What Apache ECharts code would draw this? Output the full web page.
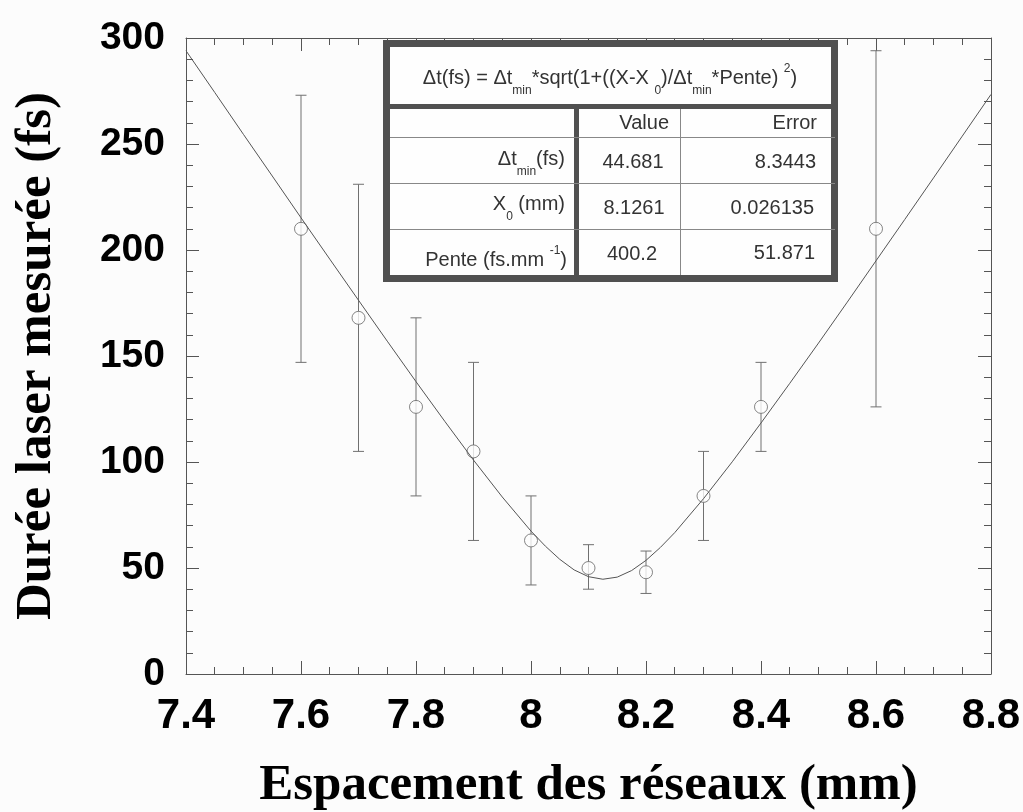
<!DOCTYPE html>
<html><head><meta charset="utf-8">
<script src="https://cdn.jsdelivr.net/npm/echarts@6/dist/echarts.min.js"></script>
<style>html,body{margin:0;padding:0;background:#fcfcfc}#c{width:1023px;height:812px}</style>
</head><body><div id="c"></div>
<script>
// Measured points
const pointX = [7.6, 7.7, 7.8, 7.9, 8.0, 8.1, 8.2, 8.3, 8.4, 8.6];
const pointY = [210, 168, 126, 105, 63, 50, 48, 84, 126, 210];
const errLow = [147, 105, 84, 63, 42, 40, 38, 63, 105, 126];
const errHigh = [273, 231, 168, 147, 84, 61, 58, 105, 147, 294];
// Fitted curve
const fitX = [7.4, 7.45, 7.5, 7.55, 7.6, 7.65, 7.7, 7.75, 7.8, 7.85, 7.9, 7.95, 8.0, 8.025, 8.05, 8.075, 8.1, 8.125, 8.15, 8.175, 8.2, 8.225, 8.25, 8.3, 8.35, 8.4, 8.45, 8.5, 8.55, 8.6, 8.65, 8.7, 8.75, 8.8];
const fitY = [294, 274.3, 254.5, 234.9, 215.2, 195.7, 176.3, 157.0, 137.9, 119.2, 100.9, 83.5, 67.4, 60.3, 54.1, 49.1, 45.9, 44.7, 45.7, 48.8, 53.6, 59.7, 66.7, 82.7, 100.1, 118.4, 137.1, 156.1, 175.4, 194.9, 214.4, 234.0, 253.7, 273.4];
const xTitle = 'Espacement des réseaux (mm)';
const yTitle = 'Durée laser mesurée (fs)';
const tableHeader = ['Value', 'Error'];
const paramValues = ['44.681', '8.1261', '400.2'];
const paramErrors = ['8.3443', '0.026135', '51.871'];

const SANS = '"Liberation Sans", Arial, sans-serif';
const SERIF = '"Liberation Serif", "Times New Roman", serif';
const measureCtx = document.createElement('canvas').getContext('2d');
function fragWidth(t, size) { measureCtx.font = size + 'px ' + SANS; return measureCtx.measureText(t).width; }
function richLine(frags, ax, align, cy) {
  const sizes = {m: 20, sub: 12, sup: 12};
  const dy = {m: 0, sub: 13, sup: -9};
  let total = 0;
  frags.forEach(f => total += fragWidth(f[0], sizes[f[1]]));
  let x = align === 'center' ? ax - total / 2 : align === 'right' ? ax - total : ax;
  const els = [];
  frags.forEach(f => {
    const s = sizes[f[1]];
    els.push({type: 'text', x: x, y: cy + dy[f[1]], z: 100,
      style: {text: f[0], font: s + 'px ' + SANS, fill: '#333', textAlign: 'left', textVerticalAlign: 'middle'}});
    x += fragWidth(f[0], s);
  });
  return els;
}

const lineCol = '#555';
const thin = {stroke: '#888', lineWidth: 1};
const thick = {stroke: '#505050', lineWidth: 5};
let graphics = [
  {type: 'rect', z: 99, shape: {x: 386.5, y: 43.5, width: 448, height: 235}, style: {fill: '#fefefe', stroke: '#505050', lineWidth: 7}},
  {type: 'line', z: 99, shape: {x1: 383, y1: 106.5, x2: 838, y2: 106.5}, style: thick},
  {type: 'line', z: 99, shape: {x1: 576.5, y1: 106, x2: 576.5, y2: 279}, style: thick},
  {type: 'line', z: 99, shape: {x1: 390, y1: 137.5, x2: 835, y2: 137.5}, style: thin},
  {type: 'line', z: 99, shape: {x1: 390, y1: 183.5, x2: 835, y2: 183.5}, style: thin},
  {type: 'line', z: 99, shape: {x1: 390, y1: 229.5, x2: 835, y2: 229.5}, style: thin},
  {type: 'line', z: 99, shape: {x1: 680.5, y1: 109, x2: 680.5, y2: 275}, style: thin}
];
graphics = graphics
  .concat(richLine([['Δt(fs) = Δt', 'm'], ['min', 'sub'], ['*sqrt(1+((X-X ', 'm'], ['0', 'sub'], [')/Δt', 'm'], ['min', 'sub'], ['*Pente) ', 'm'], ['2', 'sup'], [')', 'm']], 610, 'center', 78))
  .concat(richLine([[tableHeader[0], 'm']], 669, 'right', 123))
  .concat(richLine([[tableHeader[1], 'm']], 817, 'right', 123))
  .concat(richLine([['Δt', 'm'], ['min', 'sub'], ['(fs)', 'm']], 565, 'right', 159))
  .concat(richLine([['X', 'm'], ['0', 'sub'], [' (mm)', 'm']], 565, 'right', 204))
  .concat(richLine([['Pente (fs.mm ', 'm'], ['-1', 'sup'], [')', 'm']], 567, 'right', 260))
  .concat(richLine([[paramValues[0], 'm']], 633, 'center', 162))
  .concat(richLine([[paramValues[1], 'm']], 634, 'center', 208))
  .concat(richLine([[paramValues[2], 'm']], 632, 'center', 254))
  .concat(richLine([[paramErrors[0], 'm']], 816, 'right', 162))
  .concat(richLine([[paramErrors[1], 'm']], 814, 'right', 208))
  .concat(richLine([[paramErrors[2], 'm']], 815, 'right', 253));

const axLine = {color: lineCol, width: 1};
function xAx(pos, main) {
  return {type: 'value', min: 7.4, max: 8.8, interval: 0.2, position: pos,
    axisLine: {onZero: false, lineStyle: axLine},
    axisTick: {inside: true, length: 13, lineStyle: axLine},
    minorTick: {show: true, splitNumber: 4, length: 7, lineStyle: axLine},
    splitLine: {show: false}, minorSplitLine: {show: false},
    axisLabel: main ? {fontFamily: SANS, fontWeight: 'bold', fontSize: 42, color: '#000', margin: 21} : {show: false},
    name: main ? xTitle : '', nameLocation: 'middle', nameGap: 86,
    nameTextStyle: {fontFamily: SERIF, fontWeight: 'bold', fontSize: 51, color: '#000'}};
}
function yAx(pos, main) {
  return {type: 'value', min: 0, max: 300, interval: 50, position: pos,
    axisLine: {onZero: false, lineStyle: axLine},
    axisTick: {inside: true, length: 13, lineStyle: axLine},
    minorTick: {show: true, splitNumber: 5, length: 7, lineStyle: axLine},
    splitLine: {show: false}, minorSplitLine: {show: false},
    axisLabel: main ? {fontFamily: SANS, fontWeight: 'bold', fontSize: 39, color: '#000', margin: 21} : {show: false},
    name: main ? yTitle : '', nameLocation: 'middle', nameGap: 124,
    nameTextStyle: {fontFamily: SERIF, fontWeight: 'bold', fontSize: 51, color: '#000'}};
}

const chart = echarts.init(document.getElementById('c'), null, {renderer: 'canvas'});
chart.setOption({
  backgroundColor: '#fcfcfc',
  animation: false,
  grid: {left: 186, right: 32, top: 38, bottom: 138, containLabel: false, outerBoundsMode: 'none'},
  xAxis: [xAx('bottom', true), xAx('top', false)],
  yAxis: [yAx('left', true), yAx('right', false)],
  series: [
    {type: 'custom', z: 1, xAxisIndex: 0, yAxisIndex: 0,
      data: pointX.map((x, i) => [x, errLow[i], errHigh[i]]),
      encode: {x: 0, y: [1, 2]},
      renderItem: function (params, api) {
        const x = api.value(0);
        const lo = api.coord([x, api.value(1)]);
        const hi = api.coord([x, api.value(2)]);
        const w = 5.5;
        const st = {stroke: '#707070', lineWidth: 1};
        return {type: 'group', children: [
          {type: 'line', shape: {x1: lo[0], y1: lo[1], x2: hi[0], y2: hi[1]}, style: st},
          {type: 'line', shape: {x1: lo[0] - w, y1: lo[1], x2: lo[0] + w, y2: lo[1]}, style: st},
          {type: 'line', shape: {x1: hi[0] - w, y1: hi[1], x2: hi[0] + w, y2: hi[1]}, style: st}
        ]};
      }},
    {type: 'scatter', z: 2, data: pointX.map((x, i) => [x, pointY[i]]),
      symbol: 'circle', symbolSize: 13,
      itemStyle: {color: '#fcfcfc', borderColor: '#666', borderWidth: 1}},
    {type: 'line', z: 3, data: fitX.map((x, i) => [x, fitY[i]]),
      showSymbol: false, smooth: false,
      lineStyle: {color: '#555', width: 1}}
  ],
  graphic: graphics
});
</script></body></html>
